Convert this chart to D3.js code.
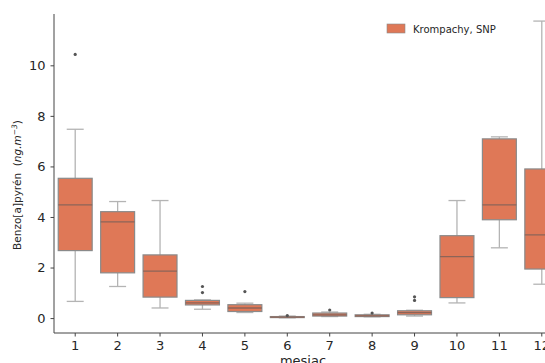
<!DOCTYPE html>
<html>
<head>
<meta charset="utf-8">
<style>
  body { margin: 0; background: #fff; }
  text { font-family: "DejaVu Sans", sans-serif; fill: #262626; }
</style>
<script src="https://d3js.org/d3.v7.min.js"></script>
</head>
<body>
<div id="chart"></div>
<script>
// months on the x axis
var months = [1, 2, 3, 4, 5, 6, 7, 8, 9, 10, 11, 12];
// box stats (ng.m-3)
var whiskLow = [0.66, 1.25, 0.40, 0.35, 0.22, 0.01, 0.06, 0.05, 0.08, 0.60, 2.78, 1.34];
var q1       = [2.67, 1.79, 0.83, 0.52, 0.26, 0.02, 0.08, 0.06, 0.13, 0.81, 3.89, 1.94];
var median   = [4.48, 3.81, 1.86, 0.60, 0.40, 0.04, 0.13, 0.09, 0.22, 2.43, 4.48, 3.29];
var q3       = [5.53, 4.21, 2.50, 0.70, 0.53, 0.06, 0.20, 0.13, 0.29, 3.26, 7.09, 5.90];
var whiskHigh= [7.47, 4.61, 4.65, 0.72, 0.59, 0.08, 0.24, 0.15, 0.31, 4.65, 7.17, 11.75];
var outliers = [[10.43], [], [], [1.25, 1.01], [1.05], [0.10], [0.32], [0.20], [0.84, 0.70], [], [], []];
var yTicks = [0, 2, 4, 6, 8, 10];
var seriesName = "Krompachy, SNP";

var width = 545, height = 363;
var margin = {top: 14, left: 54, bottom: 30};
var plotRight = 563; // chart runs off the right edge like the source

var svg = d3.select("#chart").append("svg")
    .attr("width", width)
    .attr("height", height);

var x = d3.scaleBand()
    .domain(months)
    .range([margin.left, plotRight])
    .paddingInner(0.2)
    .paddingOuter(0.1);

var y = d3.scaleLinear()
    .domain([-0.59, 12.03])
    .range([height - margin.bottom, margin.top]);

var fill = "#df7857";
var edge = "#8a8a8a";
var whiskerColor = "#b4b4b4";

// boxes
var g = svg.append("g");
months.forEach(function(m, i) {
  var cx = x(m) + x.bandwidth() / 2;
  var bw = x.bandwidth();
  // whiskers
  g.append("line").attr("x1", cx).attr("x2", cx)
    .attr("y1", y(q3[i])).attr("y2", y(whiskHigh[i]))
    .attr("stroke", whiskerColor).attr("stroke-width", 1.3);
  g.append("line").attr("x1", cx).attr("x2", cx)
    .attr("y1", y(q1[i])).attr("y2", y(whiskLow[i]))
    .attr("stroke", whiskerColor).attr("stroke-width", 1.3);
  // caps
  [whiskHigh[i], whiskLow[i]].forEach(function(v) {
    g.append("line").attr("x1", cx - bw / 4).attr("x2", cx + bw / 4)
      .attr("y1", y(v)).attr("y2", y(v))
      .attr("stroke", whiskerColor).attr("stroke-width", 1.3);
  });
  g.append("rect")
    .attr("x", x(m))
    .attr("y", y(q3[i]))
    .attr("width", bw)
    .attr("height", Math.max(1, y(q1[i]) - y(q3[i])))
    .attr("fill", fill)
    .attr("stroke", edge)
    .attr("stroke-width", 1.2);
  g.append("line").attr("x1", x(m)).attr("x2", x(m) + bw)
    .attr("y1", y(median[i])).attr("y2", y(median[i]))
    .attr("stroke", "#8c6458").attr("stroke-width", 1.3);
  outliers[i].forEach(function(v) {
    g.append("circle").attr("cx", cx).attr("cy", y(v)).attr("r", 1.6)
      .attr("fill", "#555");
  });
});

// axes
var xAxis = svg.append("g")
    .attr("transform", "translate(0," + (height - margin.bottom) + ")")
    .call(d3.axisBottom(x).tickSize(3.5).tickPadding(4));
xAxis.select(".domain").attr("stroke", "#444").attr("d", "M" + margin.left + ",0H" + plotRight);
xAxis.selectAll(".tick line").attr("stroke", "#444");
xAxis.selectAll("text").attr("font-size", 13).style("fill", "#262626");

var yAxis = svg.append("g")
    .attr("transform", "translate(" + margin.left + ",0)")
    .call(d3.axisLeft(y).tickValues(yTicks).tickSize(3.5).tickPadding(5));
yAxis.select(".domain").attr("stroke", "#444")
    .attr("d", "M0," + y.range()[1] + "V" + y.range()[0]);
yAxis.selectAll(".tick line").attr("stroke", "#444");
yAxis.selectAll("text").attr("font-size", 13).style("fill", "#262626");

// axis labels
svg.append("text")
    .attr("x", 303)
    .attr("y", 365)
    .attr("text-anchor", "middle")
    .attr("font-size", 13)
    .text("mesiac");

var yl = svg.append("text")
    .attr("transform", "translate(21,185) rotate(-90)")
    .attr("text-anchor", "middle")
    .attr("font-size", 10.5);
yl.append("tspan").text("Benzo[a]pyrén\u00a0\u00a0(");
yl.append("tspan").attr("font-style", "italic").text("ng.m");
yl.append("tspan").attr("font-style", "italic").attr("font-size", 7.5).attr("dy", -4).text("−3");
yl.append("tspan").attr("dy", 4).text(")");

// legend
svg.append("rect")
    .attr("x", 387).attr("y", 24)
    .attr("width", 18).attr("height", 9)
    .attr("fill", fill).attr("stroke", edge).attr("stroke-width", 0.6);
svg.append("text")
    .attr("x", 413).attr("y", 32.5)
    .attr("font-size", 10)
    .text(seriesName);
</script>
</body>
</html>
